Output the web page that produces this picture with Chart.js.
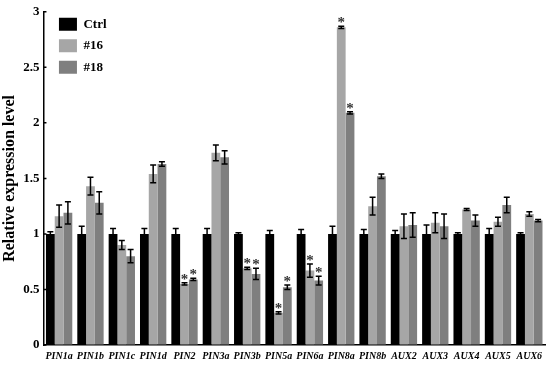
<!DOCTYPE html>
<html>
<head>
<meta charset="utf-8">
<script src="https://cdn.jsdelivr.net/npm/chart.js@4"></script>
<style>
  html, body { margin: 0; padding: 0; background: #fff; }
  #wrap { width: 550px; height: 365px; }
</style>
</head>
<body>
<div id="wrap"><canvas id="grafico"></canvas></div>
<script>
const genes = ['PIN1a','PIN1b','PIN1c','PIN1d','PIN2','PIN3a','PIN3b','PIN5a','PIN6a','PIN8a','PIN8b','AUX2','AUX3','AUX4','AUX5','AUX6'];
const ctrl    = [1, 1, 1, 1, 1, 1, 1, 1, 1, 1, 1, 1, 1, 1, 1, 1];
const ctrlErr = [0.02, 0.07, 0.05, 0.05, 0.05, 0.05, 0.01, 0.03, 0.04, 0.07, 0.04, 0.03, 0.08, 0.01, 0.05, 0.01];
const l16     = [1.16, 1.43, 0.9, 1.54, 0.55, 1.73, 0.69, 0.29, 0.67, 2.86, 1.25, 1.07, 1.1, 1.22, 1.11, 1.18];
const l16Err  = [0.1, 0.08, 0.04, 0.08, 0.01, 0.07, 0.01, 0.01, 0.06, 0.01, 0.08, 0.11, 0.09, 0.01, 0.04, 0.02];
const l18     = [1.19, 1.28, 0.8, 1.63, 0.59, 1.69, 0.64, 0.52, 0.58, 2.09, 1.52, 1.08, 1.07, 1.12, 1.26, 1.12];
const l18Err  = [0.1, 0.1, 0.06, 0.02, 0.01, 0.06, 0.05, 0.02, 0.04, 0.01, 0.02, 0.11, 0.11, 0.05, 0.07, 0.01];
const sig16   = [0,0,0,0,1,0,1,1,1,1,0,0,0,0,0,0];
const sig18   = [0,0,0,0,1,0,1,1,1,1,0,0,0,0,0,0];
const yTicks  = [0, 0.5, 1, 1.5, 2, 2.5, 3];

const serif = "'Liberation Serif', 'Times New Roman', serif";

// barras de error, asteriscos y marcas del eje y hacia dentro
const errorBars = {
  id: 'errorBars',
  afterLayout(chart) {
    // correr la leyenda un poco a la derecha
    chart.legend.left += 7;
    chart.legend.right += 7;
  },
  afterDatasetsDraw(chart) {
    const ctx = chart.ctx;
    const y = chart.scales.y;
    chart.data.datasets.forEach((ds, i) => {
      const meta = chart.getDatasetMeta(i);
      meta.data.forEach((bar, j) => {
        const v = ds.data[j], e = ds.err[j];
        const top = y.getPixelForValue(v + e);
        const bot = y.getPixelForValue(v - e);
        ctx.save();
        ctx.strokeStyle = '#000';
        ctx.lineWidth = 1.5;
        ctx.beginPath();
        ctx.moveTo(bar.x, top); ctx.lineTo(bar.x, bot);
        ctx.moveTo(bar.x - 3, top); ctx.lineTo(bar.x + 3, top);
        ctx.moveTo(bar.x - 3, bot); ctx.lineTo(bar.x + 3, bot);
        ctx.stroke();
        if (ds.sig && ds.sig[j]) {
          ctx.fillStyle = '#333';
          ctx.font = 'bold 15px ' + serif;
          ctx.textAlign = 'center';
          ctx.textBaseline = 'alphabetic';
          ctx.fillText('*', bar.x, top + 1);
        }
        ctx.restore();
      });
    });
    ctx.save();
    ctx.strokeStyle = '#000';
    ctx.lineWidth = 1.5;
    ctx.beginPath();
    y.ticks.forEach(t => {
      const py = y.getPixelForValue(t.value);
      ctx.moveTo(y.right, py); ctx.lineTo(y.right + 3, py);
    });
    ctx.stroke();
    ctx.restore();
  }
};

new Chart(document.getElementById('grafico'), {
  type: 'bar',
  data: {
    labels: genes,
    datasets: [
      { label: 'Ctrl', data: ctrl, err: ctrlErr, backgroundColor: '#000000' },
      { label: '#16', data: l16, err: l16Err, sig: sig16, backgroundColor: '#a6a6a6' },
      { label: '#18', data: l18, err: l18Err, sig: sig18, backgroundColor: '#7f7f7f' }
    ]
  },
  options: {
    responsive: true,
    maintainAspectRatio: false,
    animation: false,
    layout: { padding: { top: -2, right: 5, left: 0, bottom: -2 } },
    datasets: { bar: { categoryPercentage: 0.84, barPercentage: 1.0 } },
    plugins: {
      tooltip: { enabled: false },
      legend: {
        position: 'chartArea',
        align: 'start',
        title: { display: true, text: ' ', padding: 4, font: { size: 1 } },
        labels: {
          boxWidth: 18,
          boxHeight: 13,
          padding: 8.5,
          color: '#000',
          font: { family: serif, size: 13, weight: 'bold' }
        }
      }
    },
    scales: {
      x: {
        grid: { display: false, drawTicks: false },
        border: { color: '#000', width: 1.5 },
        ticks: {
          color: '#000',
          padding: 5,
          maxRotation: 0,
          autoSkip: false,
          font: { family: serif, size: 10, weight: 'bold', style: 'italic' }
        }
      },
      y: {
        min: 0,
        max: 3,
        afterBuildTicks: (axis) => { axis.ticks = yTicks.map(v => ({ value: v })); },
        grid: { display: true, drawOnChartArea: false, drawTicks: false },
        border: { color: '#000', width: 1.5 },
        ticks: {
          color: '#000',
          padding: 4,
          font: { family: serif, size: 13, weight: 'bold' },
          callback: (v) => String(v)
        },
        title: {
          display: true,
          text: 'Relative expression level',
          color: '#000',
          padding: { top: 0, bottom: 0 },
          font: { family: serif, size: 16, weight: 'bold' }
        }
      }
    }
  },
  plugins: [errorBars]
});
</script>
</body>
</html>
